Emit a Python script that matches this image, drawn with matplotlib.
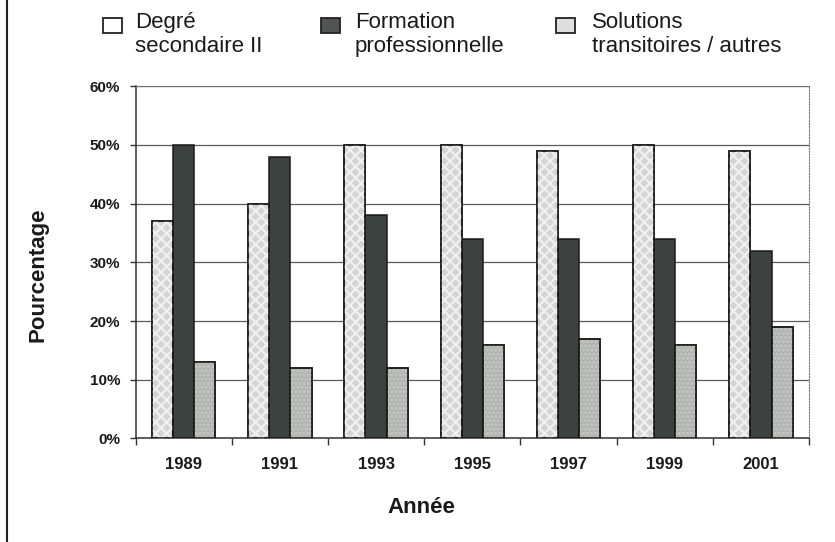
import numpy as np
import matplotlib
matplotlib.use("Agg")
import matplotlib.pyplot as plt
from matplotlib.patches import Rectangle
from matplotlib.lines import Line2D
from matplotlib.ticker import FuncFormatter, MultipleLocator

years = ["1989", "1991", "1993", "1995", "1997", "1999", "2001"]
degre = [37, 40, 50, 50, 49, 50, 49]
formation = [50, 48, 38, 34, 34, 34, 32]
solutions = [13, 12, 12, 16, 17, 16, 19]

labels = ["Degré\nsecondaire II", "Formation\nprofessionnelle", "Solutions\ntransitoires / autres"]
face = ["#d4d4d4", "#3c4240", "#b0b2b0"]
hatch_col = ["#f0f0f0", "#4a504e", "#c8cac8"]
hatches = ["xxx", "", "...."]
legend_face = ["white", "#505553", "#dedede"]

plt.rcParams["font.family"] = ["Liberation Sans", "DejaVu Sans"]
plt.rcParams["hatch.linewidth"] = 1.6

fig = plt.figure(figsize=(8.35, 5.42), dpi=100)
ax = fig.add_axes([0.1623, 0.191, 0.8066, 0.650])

x = np.arange(len(years))
w = 0.22
for i, vals in enumerate([degre, formation, solutions]):
    pos = x + (i - 1) * w
    ax.bar(pos, vals, w, color=face[i], edgecolor="#1a1a1a", linewidth=1.1, zorder=3)
    if hatches[i]:
        plt.rcParams["hatch.color"] = hatch_col[i]
        ax.bar(pos, vals, w, fill=False, hatch=hatches[i], edgecolor=hatch_col[i],
               linewidth=0, zorder=3.5)
        ax.bar(pos, vals, w, fill=False, edgecolor="#1a1a1a", linewidth=1.1, zorder=4)

ax.set_ylim(0, 60)
ax.set_xlim(-0.5, len(years) - 0.5)
ax.yaxis.set_major_locator(MultipleLocator(10))
ax.yaxis.set_major_formatter(FuncFormatter(lambda v, p: f"{int(v)}%"))
ax.grid(axis="y", color="#5a5a5a", linewidth=0.9, zorder=0)
ax.set_xticks(x)
ax.set_xticklabels(years)
ax.set_xticks(np.arange(len(years) + 1) - 0.5, minor=True)
ax.tick_params(axis="x", which="major", length=0, pad=13)
ax.tick_params(axis="x", which="minor", length=5, width=1, color="#333333")
ax.tick_params(axis="y", length=4, width=1, color="#333333", pad=7)
for lab in ax.get_xticklabels():
    lab.set_fontweight("bold")
    lab.set_fontsize(12)
    lab.set_color("#1a1a1a")
for lab in ax.get_yticklabels():
    lab.set_fontweight("bold")
    lab.set_fontsize(11)
    lab.set_color("#1a1a1a")

ax.spines["left"].set_color("#333333")
ax.spines["bottom"].set_color("#333333")
ax.spines["left"].set_linewidth(1.1)
ax.spines["bottom"].set_linewidth(1.1)
ax.spines["right"].set_linestyle((0, (1, 1.5)))
ax.spines["right"].set_color("#777777")
ax.spines["top"].set_linestyle((0, (1, 1.5)))
ax.spines["top"].set_color("#777777")

fig.text(0.045, 0.494, "Pourcentage", rotation=90, ha="center", va="center",
         fontsize=16, fontweight="bold", color="#1a1a1a")
fig.text(0.505, 0.063, "Année", ha="center", va="center",
         fontsize=16, fontweight="bold", color="#1a1a1a")

# legend
sq_x = [0.123, 0.384, 0.666]
tx_x = [0.162, 0.425, 0.709]
for i in range(3):
    fig.add_artist(Rectangle((sq_x[i], 0.940), 0.023, 0.027, transform=fig.transFigure,
                             facecolor=legend_face[i], edgecolor="#222222", linewidth=1.3))
    fig.text(tx_x[i], 0.978, labels[i], ha="left", va="top", fontsize=16,
             linespacing=1.2, color="#1a1a1a")

# left border line of the page
fig.add_artist(Line2D([0.008, 0.008], [0, 1], transform=fig.transFigure, color="#222222", linewidth=1.5))

fig.savefig("out.png", dpi=100)
